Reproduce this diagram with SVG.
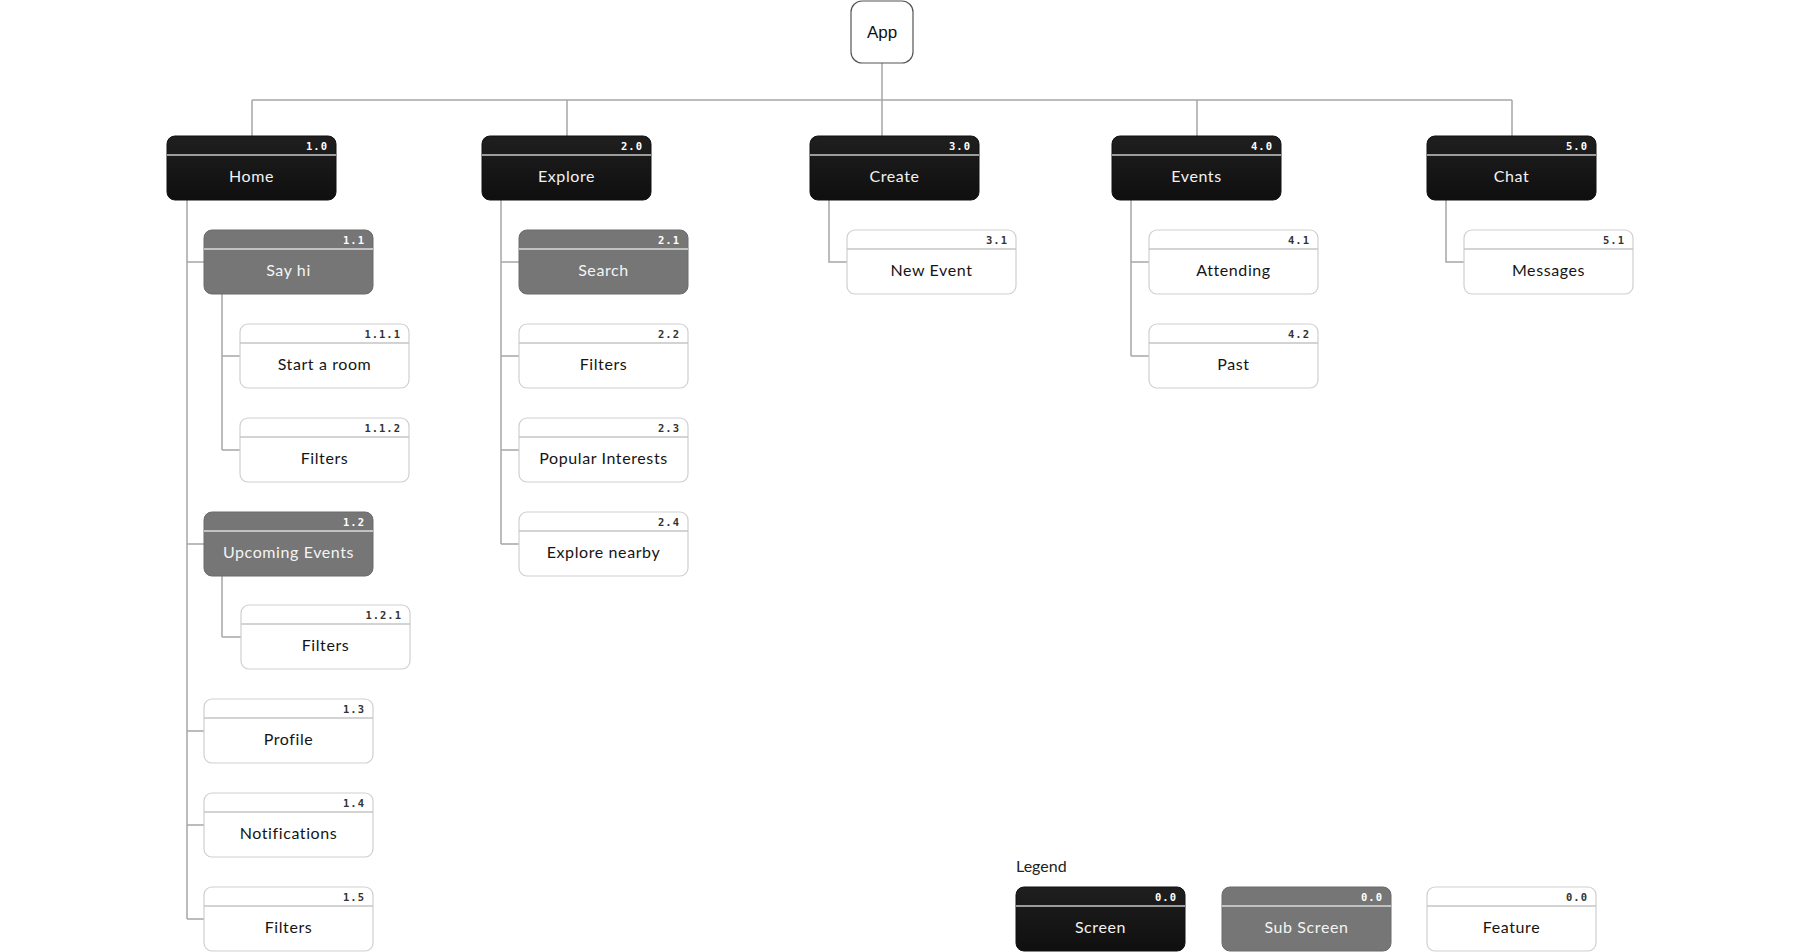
<svg xmlns="http://www.w3.org/2000/svg" width="1800" height="952" viewBox="0 0 1800 952">
<defs>
<linearGradient id="gScreen" x1="0" y1="0" x2="0" y2="1">
<stop offset="0" stop-color="#1f1f1f"/>
<stop offset="1" stop-color="#0f0f0f"/>
</linearGradient>
</defs>
<style>
.conn{stroke:#a6a6a6;stroke-width:1.5;fill:none}
.screen .box{fill:url(#gScreen);stroke:#111;stroke-width:1}
.sub .box{fill:#767676;stroke:#6a6a6a;stroke-width:1}
.feat .box{fill:#fff;stroke:#cfcfcf;stroke-width:1.2}
.div{stroke-width:1.5}
.screen .div{stroke:#c8c8c8}
.sub .div{stroke:#dcdcdc}
.feat .div{stroke:#c4c4c4}
.num{font-family:"DejaVu Sans Mono",monospace;font-weight:bold;font-size:10.5px;letter-spacing:1px;text-anchor:end}
.screen .num,.sub .num{fill:#fff}
.feat .num{fill:#333}
.lbl{font-family:Lato,"Open Sans",sans-serif;font-size:16px;letter-spacing:0.6px;text-anchor:middle}
.screen .lbl{fill:#f2f2f2}
.sub .lbl{fill:#f4f4f4}
.feat .lbl{fill:#151515}
.app{fill:#fff;stroke:#555;stroke-width:1.2}
.apptxt{font-family:"Liberation Sans",Arial,sans-serif;font-size:17px;fill:#111;text-anchor:middle}
.legend{font-family:Lato,"Open Sans",sans-serif;font-size:16px;fill:#222}
</style>

<g id="connectors">
<path class="conn" d="M882 63V136M252 100H1512M252 100V136M567 100V136M1197 100V136M1512 100V136"/>
<path class="conn" d="M187 200V919M187 262H204M187 544H204M187 731H204M187 825H204M187 919H204"/>
<path class="conn" d="M222 294V450M222 356H240M222 450H240"/>
<path class="conn" d="M222 576V637M222 637H241"/>
<path class="conn" d="M501 200V544M501 262H519M501 356H519M501 450H519M501 544H519"/>
<path class="conn" d="M829 200V262H847"/>
<path class="conn" d="M1131 200V356M1131 262H1149M1131 356H1149"/>
<path class="conn" d="M1446 200V262H1464"/>
</g>

<g id="app">
<rect class="app" x="851" y="1" width="62" height="62" rx="11"/>
<text class="apptxt" x="882" y="38">App</text>
</g>

<g id="n1-0" class="screen" transform="translate(167,136)"><rect class="box" width="169" height="64" rx="8"/><line class="div" x1="0" y1="19" x2="169" y2="19"/><text class="num" x="161" y="14">1.0</text><text class="lbl" x="84.5" y="46">Home</text></g>
<g id="n1-1" class="sub" transform="translate(204,230)"><rect class="box" width="169" height="64" rx="8"/><line class="div" x1="0" y1="19" x2="169" y2="19"/><text class="num" x="161" y="14">1.1</text><text class="lbl" x="84.5" y="46">Say hi</text></g>
<g id="n1-1-1" class="feat" transform="translate(240,324)"><rect class="box" width="169" height="64" rx="8"/><line class="div" x1="0" y1="19" x2="169" y2="19"/><text class="num" x="161" y="14">1.1.1</text><text class="lbl" x="84.5" y="46">Start a room</text></g>
<g id="n1-1-2" class="feat" transform="translate(240,418)"><rect class="box" width="169" height="64" rx="8"/><line class="div" x1="0" y1="19" x2="169" y2="19"/><text class="num" x="161" y="14">1.1.2</text><text class="lbl" x="84.5" y="46">Filters</text></g>
<g id="n1-2" class="sub" transform="translate(204,512)"><rect class="box" width="169" height="64" rx="8"/><line class="div" x1="0" y1="19" x2="169" y2="19"/><text class="num" x="161" y="14">1.2</text><text class="lbl" x="84.5" y="46">Upcoming Events</text></g>
<g id="n1-2-1" class="feat" transform="translate(241,605)"><rect class="box" width="169" height="64" rx="8"/><line class="div" x1="0" y1="19" x2="169" y2="19"/><text class="num" x="161" y="14">1.2.1</text><text class="lbl" x="84.5" y="46">Filters</text></g>
<g id="n1-3" class="feat" transform="translate(204,699)"><rect class="box" width="169" height="64" rx="8"/><line class="div" x1="0" y1="19" x2="169" y2="19"/><text class="num" x="161" y="14">1.3</text><text class="lbl" x="84.5" y="46">Profile</text></g>
<g id="n1-4" class="feat" transform="translate(204,793)"><rect class="box" width="169" height="64" rx="8"/><line class="div" x1="0" y1="19" x2="169" y2="19"/><text class="num" x="161" y="14">1.4</text><text class="lbl" x="84.5" y="46">Notifications</text></g>
<g id="n1-5" class="feat" transform="translate(204,887)"><rect class="box" width="169" height="64" rx="8"/><line class="div" x1="0" y1="19" x2="169" y2="19"/><text class="num" x="161" y="14">1.5</text><text class="lbl" x="84.5" y="46">Filters</text></g>

<g id="n2-0" class="screen" transform="translate(482,136)"><rect class="box" width="169" height="64" rx="8"/><line class="div" x1="0" y1="19" x2="169" y2="19"/><text class="num" x="161" y="14">2.0</text><text class="lbl" x="84.5" y="46">Explore</text></g>
<g id="n2-1" class="sub" transform="translate(519,230)"><rect class="box" width="169" height="64" rx="8"/><line class="div" x1="0" y1="19" x2="169" y2="19"/><text class="num" x="161" y="14">2.1</text><text class="lbl" x="84.5" y="46">Search</text></g>
<g id="n2-2" class="feat" transform="translate(519,324)"><rect class="box" width="169" height="64" rx="8"/><line class="div" x1="0" y1="19" x2="169" y2="19"/><text class="num" x="161" y="14">2.2</text><text class="lbl" x="84.5" y="46">Filters</text></g>
<g id="n2-3" class="feat" transform="translate(519,418)"><rect class="box" width="169" height="64" rx="8"/><line class="div" x1="0" y1="19" x2="169" y2="19"/><text class="num" x="161" y="14">2.3</text><text class="lbl" x="84.5" y="46">Popular Interests</text></g>
<g id="n2-4" class="feat" transform="translate(519,512)"><rect class="box" width="169" height="64" rx="8"/><line class="div" x1="0" y1="19" x2="169" y2="19"/><text class="num" x="161" y="14">2.4</text><text class="lbl" x="84.5" y="46">Explore nearby</text></g>

<g id="n3-0" class="screen" transform="translate(810,136)"><rect class="box" width="169" height="64" rx="8"/><line class="div" x1="0" y1="19" x2="169" y2="19"/><text class="num" x="161" y="14">3.0</text><text class="lbl" x="84.5" y="46">Create</text></g>
<g id="n3-1" class="feat" transform="translate(847,230)"><rect class="box" width="169" height="64" rx="8"/><line class="div" x1="0" y1="19" x2="169" y2="19"/><text class="num" x="161" y="14">3.1</text><text class="lbl" x="84.5" y="46">New Event</text></g>

<g id="n4-0" class="screen" transform="translate(1112,136)"><rect class="box" width="169" height="64" rx="8"/><line class="div" x1="0" y1="19" x2="169" y2="19"/><text class="num" x="161" y="14">4.0</text><text class="lbl" x="84.5" y="46">Events</text></g>
<g id="n4-1" class="feat" transform="translate(1149,230)"><rect class="box" width="169" height="64" rx="8"/><line class="div" x1="0" y1="19" x2="169" y2="19"/><text class="num" x="161" y="14">4.1</text><text class="lbl" x="84.5" y="46">Attending</text></g>
<g id="n4-2" class="feat" transform="translate(1149,324)"><rect class="box" width="169" height="64" rx="8"/><line class="div" x1="0" y1="19" x2="169" y2="19"/><text class="num" x="161" y="14">4.2</text><text class="lbl" x="84.5" y="46">Past</text></g>

<g id="n5-0" class="screen" transform="translate(1427,136)"><rect class="box" width="169" height="64" rx="8"/><line class="div" x1="0" y1="19" x2="169" y2="19"/><text class="num" x="161" y="14">5.0</text><text class="lbl" x="84.5" y="46">Chat</text></g>
<g id="n5-1" class="feat" transform="translate(1464,230)"><rect class="box" width="169" height="64" rx="8"/><line class="div" x1="0" y1="19" x2="169" y2="19"/><text class="num" x="161" y="14">5.1</text><text class="lbl" x="84.5" y="46">Messages</text></g>

<g id="legend">
<text class="legend" x="1016" y="872">Legend</text>
<g id="legend-screen" class="screen" transform="translate(1016,887)"><rect class="box" width="169" height="64" rx="8"/><line class="div" x1="0" y1="19" x2="169" y2="19"/><text class="num" x="161" y="14">0.0</text><text class="lbl" x="84.5" y="46">Screen</text></g>
<g id="legend-sub" class="sub" transform="translate(1222,887)"><rect class="box" width="169" height="64" rx="8"/><line class="div" x1="0" y1="19" x2="169" y2="19"/><text class="num" x="161" y="14">0.0</text><text class="lbl" x="84.5" y="46">Sub Screen</text></g>
<g id="legend-feat" class="feat" transform="translate(1427,887)"><rect class="box" width="169" height="64" rx="8"/><line class="div" x1="0" y1="19" x2="169" y2="19"/><text class="num" x="161" y="14">0.0</text><text class="lbl" x="84.5" y="46">Feature</text></g>
</g>
</svg>
